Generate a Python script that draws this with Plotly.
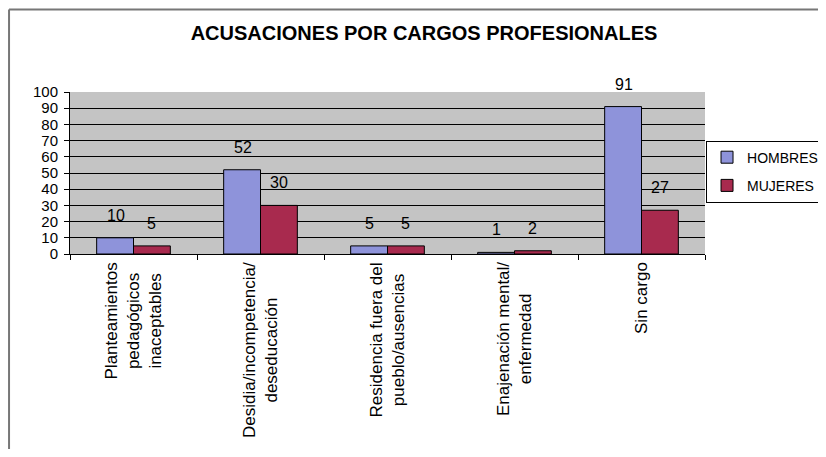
import plotly.graph_objects as go

# Données
categories = [
    "Planteamientos<br>pedagógicos<br>inaceptables",
    "Desidia/incompetencia/<br>deseducación",
    "Residencia fuera del<br>pueblo/ausencias",
    "Enajenación mental/<br>enfermedad",
    "Sin cargo",
]
hombres = [10, 52, 5, 1, 91]
mujeres = [5, 30, 5, 2, 27]
y_ticks = list(range(0, 101, 10))

COULEUR_HOMBRES = "#8E93DA"
COULEUR_MUJERES = "#A82A4E"
FONT = "Arial, Liberation Sans, sans-serif"

x_ids = list(range(len(categories)))

fig = go.Figure()

fig.add_trace(go.Bar(
    x=x_ids, y=hombres,
    name="HOMBRES",
    legendgroup="h",
    marker=dict(color=COULEUR_HOMBRES, line=dict(color="black", width=1)),
))
fig.add_trace(go.Bar(
    x=x_ids, y=mujeres,
    name="MUJERES",
    legendgroup="m",
    marker=dict(color=COULEUR_MUJERES, line=dict(color="black", width=1)),
))

annotations = []

# valeurs au-dessus des barres (décalées comme dans Excel)
for serie, dx in ((hombres, -18), (mujeres, 18)):
    for i, v in enumerate(serie):
        annotations.append(dict(
            x=i, y=v, xref="x", yref="y",
            text=str(v), showarrow=False,
            xanchor="center", yanchor="bottom",
            xshift=dx, yshift=12,
            font=dict(size=16, color="black", family=FONT),
        ))

# étiquettes de catégories pivotées, centrées
for i, cat in enumerate(categories):
    annotations.append(dict(
        x=i, xref="x", y=-0.04, yref="paper",
        text=cat, textangle=-90,
        showarrow=False, xanchor="center", yanchor="top",
        align="center",
        font=dict(size=17, color="black", family=FONT),
    ))

fig.update_layout(
    width=818, height=441,
    paper_bgcolor="white",
    plot_bgcolor="#C4C4C4",
    font=dict(family=FONT, size=15, color="black"),
    margin=dict(l=62, r=121, t=84, b=195, autoexpand=False),
    barmode="group",
    bargap=0.42,
    bargroupgap=0,
    title=dict(
        text="<b>ACUSACIONES POR CARGOS PROFESIONALES</b>",
        x=0.5086, xanchor="center", y=0.943, yanchor="middle",
        font=dict(size=20, family=FONT, color="black"),
    ),
    legend=dict(
        x=1.0016, y=0.70, xanchor="left", yanchor="top",
        bordercolor="black", borderwidth=1,
        bgcolor="white",
        traceorder="grouped", tracegroupgap=7,
        itemwidth=30,
        font=dict(size=14, family=FONT),
    ),
    annotations=annotations,
    shapes=[
        dict(type="line", xref="paper", yref="paper",
             x0=-0.096, x1=-0.096, y0=1.51, y1=-1.3,
             line=dict(color="#777777", width=2)),
        dict(type="line", xref="paper", yref="paper",
             x0=-0.096, x1=1.25, y0=1.51, y1=1.51,
             line=dict(color="#777777", width=2)),
    ],
)

fig.update_xaxes(
    type="category",
    tickvals=x_ids, ticktext=[""] * len(x_ids),
    ticks="outside", tickson="boundaries", ticklen=5, tickcolor="black",
    showline=True, linecolor="black", linewidth=1,
    showgrid=False,
)
fig.update_yaxes(
    range=[0, 100], tickvals=y_ticks,
    ticks="outside", ticklen=5, tickcolor="black",
    ticklabelstandoff=3,
    showline=True, linecolor="black", linewidth=1,
    showgrid=True, gridcolor="black", gridwidth=1,
    zeroline=False,
    tickfont=dict(size=15, family=FONT),
)

fig.write_html("out.html")
